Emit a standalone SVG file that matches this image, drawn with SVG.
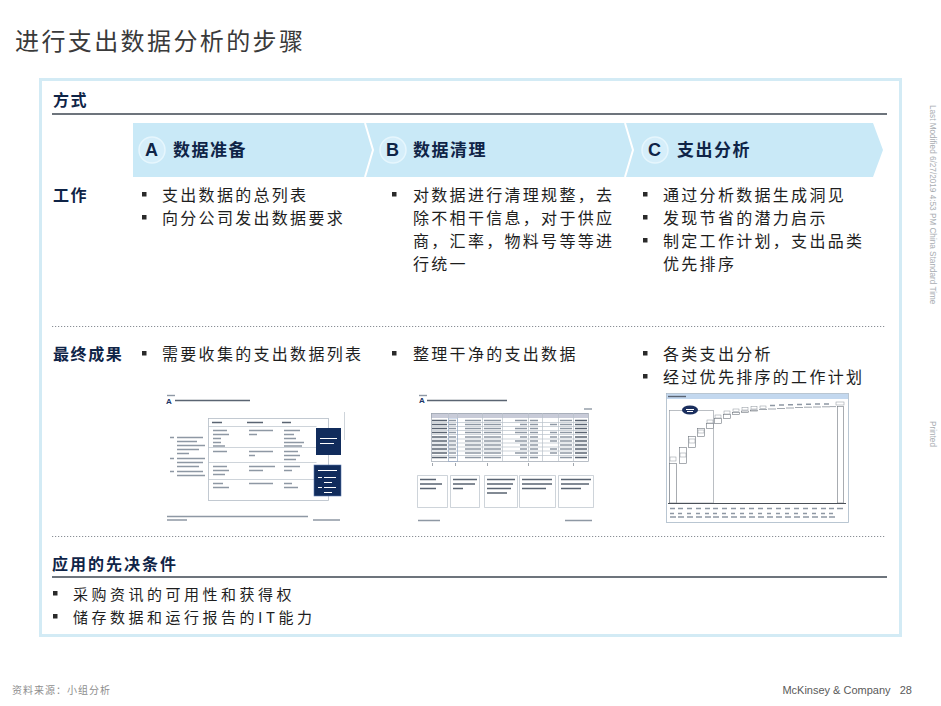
<svg xmlns="http://www.w3.org/2000/svg" width="941" height="706" viewBox="0 0 941 706">
<style>
.cjk{font-family:"Noto Sans CJK SC","Liberation Sans",sans-serif}
.body{font-size:16px;fill:#1e1e1e;letter-spacing:2.3px}
.hd{font-size:16px;font-weight:bold;fill:#0f2447;letter-spacing:1.6px}
.ph{font-size:17px;font-weight:bold;fill:#0f2447;letter-spacing:1.5px}
.lt{font-family:"Liberation Sans",Arial,sans-serif;font-weight:bold;font-size:18px;fill:#0f2447}
.circ{fill:#d5eefa;stroke:#e6f6fd;stroke-width:1.5}
.sep{fill:none;stroke:#ffffff;stroke-width:2}
.rule{stroke:#3c4650;stroke-width:1.5}
.dot{stroke:#8a8f96;stroke-width:1.2;stroke-dasharray:1.2 1.8}
.bul{fill:#2a2a2a}
.tx{fill:none;stroke:#8e98a4;stroke-width:1.4}
.txd{fill:none;stroke:#5a6472;stroke-width:1.4}
.txw{fill:none;stroke:#ffffff;stroke-width:1.2}
.ln{fill:none;stroke:#b9c1ca;stroke-width:0.7}
.lnd{fill:none;stroke:#7a828c;stroke-width:0.7}
.side{font-family:"Liberation Sans",Arial,sans-serif;font-size:8.2px;fill:#a9adb2}
</style>

<rect width="941" height="706" fill="#ffffff"/>

<g id="title">
<text class="cjk" x="15" y="50" font-size="24" fill="#3a3a3a" letter-spacing="2.4">进行支出数据分析的步骤</text>
</g>

<g id="frame">
<rect x="40.5" y="79.5" width="860" height="556" fill="#ffffff" stroke="#d3ebf5" stroke-width="3"/>
</g>

<g id="section-method">
<text class="cjk hd" x="53" y="106">方式</text>
<line class="rule" x1="52" y1="114" x2="887" y2="114"/>
</g>

<g id="phase-bar">
<polygon points="133,123 873,123 883,150 873,177 133,177" fill="#c9e9f7"/>
<polyline class="sep" points="365,123 373,150 365,177"/>
<polyline class="sep" points="625,123 633,150 625,177"/>
</g>

<g id="phase-A">
<circle class="circ" cx="152" cy="150" r="13"/>
<text class="lt" x="145" y="156">A</text>
<text class="cjk ph" x="173" y="156">数据准备</text>
</g>
<g id="phase-B">
<circle class="circ" cx="393" cy="150" r="13"/>
<text class="lt" x="386" y="156">B</text>
<text class="cjk ph" x="413" y="156">数据清理</text>
</g>
<g id="phase-C">
<circle class="circ" cx="655" cy="150" r="13"/>
<text class="lt" x="648" y="156">C</text>
<text class="cjk ph" x="677" y="156">支出分析</text>
</g>

<g id="row-work">
<text class="cjk hd" x="53" y="201">工作</text>
<rect class="bul" x="142" y="192" width="4.5" height="4.5"/>
<rect class="bul" x="142" y="215" width="4.5" height="4.5"/>
<text class="cjk body" x="162" y="201">支出数据的总列表</text>
<text class="cjk body" x="162" y="224">向分公司发出数据要求</text>

<rect class="bul" x="392" y="192" width="4.5" height="4.5"/>
<text class="cjk body" x="413" y="201">对数据进行清理规整，去</text>
<text class="cjk body" x="413" y="224">除不相干信息，对于供应</text>
<text class="cjk body" x="413" y="247">商，汇率，物料号等等进</text>
<text class="cjk body" x="413" y="270">行统一</text>

<rect class="bul" x="643" y="192" width="4.5" height="4.5"/>
<rect class="bul" x="643" y="215" width="4.5" height="4.5"/>
<rect class="bul" x="643" y="238" width="4.5" height="4.5"/>
<text class="cjk body" x="663" y="201">通过分析数据生成洞见</text>
<text class="cjk body" x="663" y="224">发现节省的潜力启示</text>
<text class="cjk body" x="663" y="247">制定工作计划，支出品类</text>
<text class="cjk body" x="663" y="270">优先排序</text>
</g>

<g id="divider-1">
<line class="dot" x1="52" y1="326.5" x2="886" y2="326.5"/>
</g>

<g id="row-result">
<text class="cjk hd" x="53" y="360">最终成果</text>
<rect class="bul" x="142" y="351" width="4.5" height="4.5"/>
<text class="cjk body" x="162" y="360">需要收集的支出数据列表</text>
<rect class="bul" x="392" y="351" width="4.5" height="4.5"/>
<text class="cjk body" x="413" y="360">整理干净的支出数据</text>
<rect class="bul" x="643" y="351" width="4.5" height="4.5"/>
<rect class="bul" x="643" y="374" width="4.5" height="4.5"/>
<text class="cjk body" x="663" y="360">各类支出分析</text>
<text class="cjk body" x="663" y="383">经过优先排序的工作计划</text>
</g>

<g id="thumb-A">
<path class="tx" d="M167,395.5h8"/>
<text x="166" y="404" font-family="Liberation Sans,Arial,sans-serif" font-weight="bold" font-size="8" fill="#1b3566">A</text>
<path class="txd" d="M175,400.5h75"/>
<line class="ln" x1="344.5" y1="412" x2="344.5" y2="440"/>
<rect x="208.5" y="418.5" width="120" height="82" fill="none" stroke="#b3bcc6" stroke-width="0.8"/>
<path class="ln" d="M208.5,426.5h108M208.5,447.5h108M208.5,462.5h108M208.5,479.5h108"/>
<path class="txd" d="M212,422.5h10M247,422.5h16M282,422.5h9"/>
<path class="tx" d="M213,430.5h14M213,434.5h16M213,438.5h8M213,442.5h8M213,446h12
M249,430.5h24M249,434.5h8
M284,430.5h16M284,434.5h10M284,438.5h12M284,442.5h20M284,446h18
M213,451.5h14
M249,451.5h24M249,455.5h6
M284,451.5h14M284,455.5h16M284,459.5h12
M213,466.5h14M213,470.5h16M213,474.5h12
M249,466.5h26M249,470.5h14
M284,466.5h16M284,470.5h8
M213,483.5h10M213,487.5h16
M249,483.5h24
M284,483.5h8M284,487.5h14"/>
<path class="tx" d="M170,437.5h4M177,437.5h26M177,441.5h20M177,445.5h28M177,449.5h22M177,453.5h12
M170,458.5h4M177,458.5h28M177,462.5h26M177,466.5h22
M170,471.5h4M177,471.5h26M177,475.5h28"/>
<rect x="316" y="428" width="25" height="27" fill="#112c5c"/>
<path class="txw" d="M320,438.5h17M320,443.5h14"/>
<rect x="314" y="465" width="27" height="31" fill="#112c5c" stroke="#5c7bb0" stroke-width="0.6"/>
<path class="txw" d="M318,470.5h19M318,477.5h4M324,477.5h12M324,482.5h8M318,487.5h4M324,487.5h12M324,492.5h8"/>
<path class="tx" d="M167,516.5h141M167,520h20M313,520h27"/>
</g>

<g id="thumb-B">
<path class="tx" d="M419,395.5h8"/>
<text x="419" y="403" font-family="Liberation Sans,Arial,sans-serif" font-weight="bold" font-size="8" fill="#1b3566">A</text>
<path class="txd" d="M427,400.5h80"/>
<path class="tx" d="M584,409h8"/>
<rect x="431" y="413" width="157" height="5" fill="#c8cbd8"/>
<rect x="431.5" y="413.5" width="157" height="48" fill="none" stroke="#9aa3ae" stroke-width="0.7"/>
<path class="ln" d="M431,422.5h157M431,426.5h157M431,430.5h157M431,434.5h157M431,439h157M431,443h157M431,447h157M431,451h157M431,455.5h157
M448.5,413v48M457.5,413v48M482.5,413v48M502.5,413v48M528.5,413v48M542.5,413v48M558.5,413v48M573.5,413v48"/>
<rect x="448.5" y="418.5" width="9" height="43" fill="none" stroke="#6d8ec4" stroke-width="0.6" stroke-dasharray="1 1"/>
<path class="txd" d="M432,420.5h15M432,424.5h15M432,428.5h15M432,432.5h15M432,437h15M432,441h15M432,445h15M432,449h15M432,453h15M432,457.5h15
M575,420.5h12M575,424.5h12M575,428.5h12M575,432.5h12M575,437h12M575,441h12M575,445h12M575,449h12M575,453h12M575,457.5h12"/>
<path class="tx" d="M449,420.5h7M449,424.5h7M449,428.5h7M449,432.5h7M449,437h7M449,441h7M449,445h7M449,449h7M449,453h7M449,457.5h7
M465,420.5h16M465,424.5h16M465,428.5h16M465,432.5h16M465,437h16M465,441h16M465,445h16M465,449h16M465,453h16M465,457.5h16
M484,420.5h17M484,424.5h17M484,428.5h17M484,432.5h17M484,437h17M484,441h17M484,445h17M484,449h17M484,453h17M484,457.5h17
M515,420.5h12M520,424.5h7M515,428.5h12M515,432.5h12M520,437h7M515,441h12M520,445h7M520,449h7M515,453h12M520,457.5h7
M530,420.5h8M530,424.5h8M530,428.5h8M530,432.5h8M530,437h8M530,441h8M530,445h8M530,449h8M530,453h8M530,457.5h8
M550,424.5h7M550,432.5h7M550,437h7M550,441h7M550,449h7M550,453h7
M560,420.5h12M560,424.5h12M560,428.5h12M560,432.5h12M560,437h12M560,441h12M560,445h12M560,449h12M560,453h12M560,457.5h12"/>
<path class="lnd" d="M432.5,463v3M455.5,463v3M487.5,463v3M528.5,463v3M573.5,463v3"/>
<path class="ln" d="M417.5,475.5h30v32h-30zM450.5,475.5h29v32h-29zM484.5,475.5h33v32h-33zM519.5,475.5h36v32h-36zM558.5,475.5h35v32h-35z"/>
<path class="txd" d="M420,479.5h16M420,484h22M420,488.5h16
M453,479.5h24M453,484h22M453,488.5h10
M487,479.5h28M487,484h26M487,488.5h24M487,493h20
M522,479.5h30M522,484h30M522,488.5h24
M561,479.5h30M561,484h28M561,488.5h20"/>
<path class="tx" d="M418,520.5h22M565,520.5h27"/>
</g>

<g id="thumb-C">
<rect x="666.5" y="393.5" width="182" height="129" fill="#ffffff" stroke="#a9b8c8" stroke-width="0.8"/>
<rect x="667" y="394" width="181" height="5" fill="#c3d8ef"/>
<path class="txd" d="M668,396.5h18"/>
<rect x="669.5" y="410.5" width="44" height="92.5" fill="none" stroke="#8c939b" stroke-width="0.6"/>
<rect x="669.5" y="463.5" width="7" height="39.5" fill="#ffffff" stroke="#6e757e" stroke-width="0.6"/>
<g fill="#ffffff" stroke="#6e757e" stroke-width="0.6">
<rect x="679.5" y="447.5" width="7" height="16"/>
<rect x="688.5" y="436.5" width="7" height="11"/>
<rect x="697.5" y="428.5" width="7" height="8"/>
<rect x="706.5" y="423.5" width="7" height="5"/>
<rect x="714.5" y="418.5" width="7" height="5"/>
<rect x="723.5" y="414.5" width="7" height="4"/>
<rect x="732.5" y="412.5" width="7" height="2"/>
<rect x="741.5" y="411" width="7" height="1.5"/>
<rect x="750.5" y="410" width="7" height="1"/>
<rect x="837.5" y="406.5" width="6" height="96.5"/>
</g>
<path class="lnd" d="M759,409.5h8M768,409h8M777,408.5h8M786,408h8M795,407.5h8M804,407.2h8M813,407h8M822,406.8h8M830,406.6h6"/>
<g fill="#ffffff" stroke="#8c939b" stroke-width="0.5">
<rect x="670" y="457" width="6" height="4"/>
<rect x="680" y="453" width="6" height="4"/>
<rect x="689" y="439" width="6" height="4"/>
<rect x="698" y="430" width="6" height="3"/>
<rect x="707" y="420" width="6" height="3"/>
<rect x="715" y="415" width="6" height="3"/>
<rect x="724" y="411" width="6" height="3"/>
<rect x="733" y="409" width="6" height="2.5"/>
<rect x="742" y="407.5" width="6" height="2.5"/>
<rect x="751" y="406.5" width="6" height="2.5"/>
<rect x="760" y="406" width="6" height="2.5"/>
<rect x="836" y="402" width="8" height="3"/>
</g>
<path class="tx" d="M770,405.5h5M779,405h5M788,404.8h5M797,404.5h5M806,404.3h5M815,404h5M824,404h5"/>
<ellipse cx="690" cy="410" rx="8" ry="4.5" fill="#1b2f5e"/>
<path class="txw" d="M686,409.5h8M687,411.5h6" stroke-width="0.8"/>
<line x1="668" y1="503.5" x2="846" y2="503.5" stroke="#4a5058" stroke-width="1"/>
<path class="tx" stroke-width="1" d="M670,508.5h5M678,508.5h5M687,508.5h5M696,508.5h5M705,508.5h5M713,508.5h5M722,508.5h5M731,508.5h5M740,508.5h5M749,508.5h5M758,508.5h5M767,508.5h5M776,508.5h5M785,508.5h5M794,508.5h5M803,508.5h5M812,508.5h5M821,508.5h5M829,508.5h5M837,508.5h6
M670,513.5h4M678,513.5h4M687,513.5h4M696,513.5h4M705,513.5h4M713,513.5h4M722,513.5h4M731,513.5h4M740,513.5h4M749,513.5h4M758,513.5h4M767,513.5h4M776,513.5h4M785,513.5h4M794,513.5h4M803,513.5h4M812,513.5h4M821,513.5h4M829,513.5h4
M670,517h6M678,517h6M687,517h6M696,517h6M705,517h6M713,517h6M722,517h6M731,517h6M740,517h6M749,517h6M758,517h6M767,517h6M776,517h6M785,517h6M794,517h6M803,517h6M812,517h6M821,517h6M829,517h6"/>
</g>

<g id="divider-2">
<line class="dot" x1="52" y1="536.5" x2="886" y2="536.5"/>
</g>

<g id="section-prereq">
<text class="cjk" x="52" y="570" font-size="16" font-weight="bold" fill="#0f2447" letter-spacing="2">应用的先决条件</text>
<line class="rule" x1="52" y1="577" x2="887" y2="577"/>
<rect class="bul" x="53" y="591" width="4.5" height="4.5"/>
<rect class="bul" x="53" y="614" width="4.5" height="4.5"/>
<text class="cjk" x="73" y="600" font-size="15" fill="#1e1e1e" letter-spacing="3.5">采购资讯的可用性和获得权</text>
<text class="cjk" x="73" y="622.5" font-size="15" fill="#1e1e1e" letter-spacing="3.5">储存数据和运行报告的IT能力</text>
</g>

<g id="side-notes">
<text class="side" transform="translate(929.5,105) rotate(90)">Last Modified 6/27/2019 4:53 PM China Standard Time</text>
<text class="side" transform="translate(929.5,421) rotate(90)">Printed</text>
</g>

<g id="footer">
<text class="cjk" x="12" y="694" font-size="10" fill="#8e8e8e" letter-spacing="1">资料来源：小组分析</text>
<text x="912" y="694" text-anchor="end" font-family="Liberation Sans,Arial,sans-serif" font-size="11" fill="#5a5a5a" xml:space="preserve">McKinsey &amp; Company   28</text>
</g>
</svg>
